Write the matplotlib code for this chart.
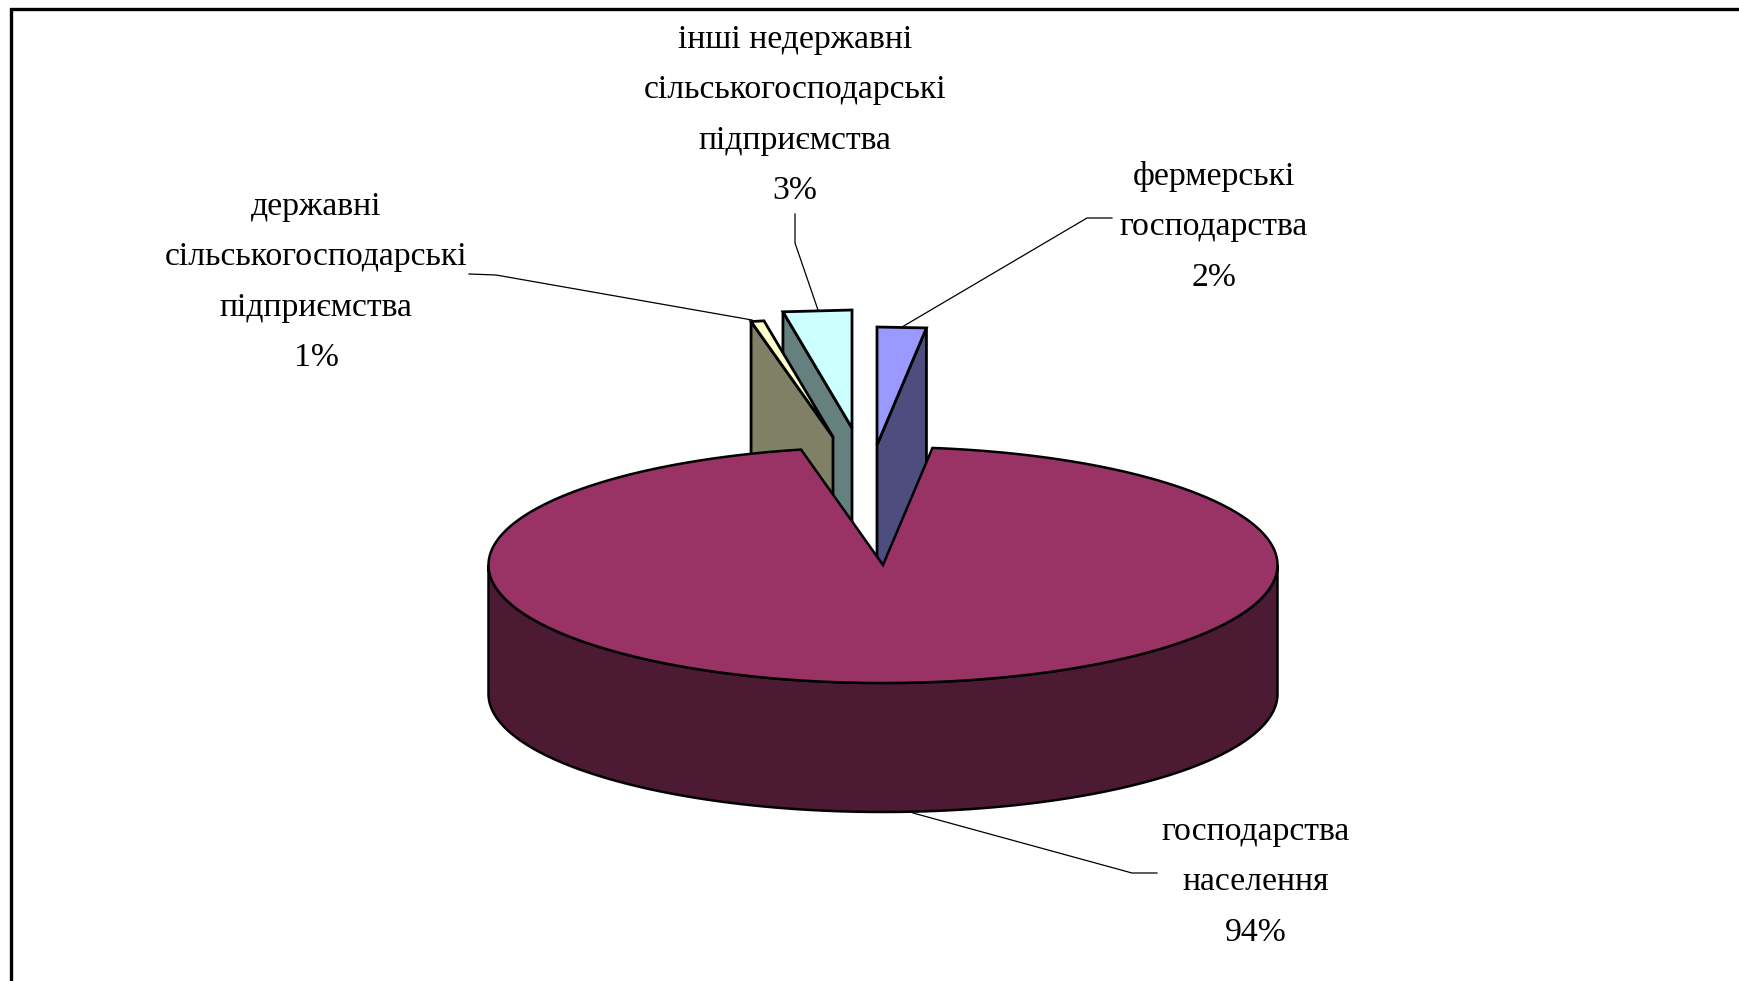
#!/usr/bin/env python3
import matplotlib

matplotlib.use("Agg")
import matplotlib.pyplot as plt
import numpy as np

# slice shares in percent, counter-clockwise from the right edge of the gap
categories = [
    "фермерські\nгосподарства",
    "інші недержавні\nсільськогосподарські\nпідприємства",
    "державні\nсільськогосподарські\nпідприємства",
    "господарства\nнаселення",
]
shares = [2.0, 2.8, 0.53, 94.67]
percent_labels = ["2%", "3%", "1%", "94%"]

top_colors = ["#9999FF", "#CCFFFF", "#FFFFCC", "#993366"]
wall_colors = ["#4D4D80", "#668080", "#808066", "#4D1A33"]

# pie geometry, in pixels of the output image
CX, CY = 883.0, 565.0
RX, RY = 394.5, 118.0
DEPTH = 129.0
WALL_EXTRA = 12.0  # walls run on behind the big slice, so no gap shows along its edge
START_ANGLE = 82.8
EXPLODE = [(-6, -120), (-31, -137), (-50, -128), (0, 0)]
DRAW_ORDER = [1, 2, 0]

LABEL_X = [1214, 795, 316, 1256]
LABEL_FIRST_BASELINE = [185, 48, 215, 840]
LINE_STEP = 50.3
LEADERS = [
    [(902, 327), (1087, 218), (1112, 218)],
    [(795, 214), (795, 243), (818, 310)],
    [(469, 274), (496, 275), (752, 320)],
    [(913, 813), (1132, 873), (1157, 873)],
]


def ellipse_xy(angles, cx, cy):
    rad = np.radians(angles)
    return cx + RX * np.cos(rad), cy - RY * np.sin(rad)


def draw_exploded_slice(ax, t0, t1, offset, top_color, wall_color):
    cx, cy = CX + offset[0], CY + offset[1]
    # only the wall on the outer side of the slice faces the viewer
    wall_angle = t0 if abs(np.cos(np.radians(t0))) > abs(np.cos(np.radians(t1))) else t1
    wx, wy = ellipse_xy(np.array([wall_angle]), cx, cy)
    depth = DEPTH + WALL_EXTRA
    ax.fill(
        [cx, wx[0], wx[0], cx],
        [cy, wy[0], wy[0] + depth, cy + depth],
        facecolor=wall_color, edgecolor="black", linewidth=2.0, joinstyle="miter",
    )
    # these arcs are so short that the reference draws them as a straight edge
    arc_x, arc_y = ellipse_xy(np.array([t0, t1]), cx, cy)
    ax.fill(
        np.r_[cx, arc_x], np.r_[cy, arc_y],
        facecolor=top_color, edgecolor="black", linewidth=2.0, joinstyle="miter",
    )


def draw_main_slice(ax, t0, t1, top_color, side_color):
    front = np.linspace(180, 360, 240)
    fx, fy = ellipse_xy(front, CX, CY)
    ax.fill(
        np.r_[fx, fx[::-1]], np.r_[fy, fy[::-1] + DEPTH],
        facecolor=side_color, edgecolor="black", linewidth=1.8,
    )
    tx, ty = ellipse_xy(np.linspace(t0, t1, 480), CX, CY)
    ax.fill(
        np.r_[CX, tx], np.r_[CY, ty],
        facecolor=top_color, edgecolor="black", linewidth=1.8, joinstyle="miter",
    )


def main() -> None:
    plt.rcParams["font.family"] = ["Liberation Serif", "DejaVu Serif"]
    fig = plt.figure(figsize=(17.39, 9.81), dpi=100)
    ax = fig.add_axes([0, 0, 1, 1])
    ax.set_xlim(0, 1739)
    ax.set_ylim(981, 0)
    ax.axis("off")

    # frame is only drawn on the left and the top, it runs off the image elsewhere
    ax.plot([10.5, 10.5, 1739], [981, 8.5, 8.5], color="black", linewidth=2.4, solid_joinstyle="miter")

    bounds = START_ANGLE + np.cumsum([0.0] + [s * 3.6 for s in shares])
    for i in DRAW_ORDER:
        draw_exploded_slice(ax, bounds[i], bounds[i + 1], EXPLODE[i], top_colors[i], wall_colors[i])
    draw_main_slice(ax, bounds[3], bounds[4], top_colors[3], wall_colors[3])

    for pts in LEADERS:
        xs, ys = zip(*pts)
        ax.plot(xs, ys, color="black", linewidth=0.9)

    for i, name in enumerate(categories):
        lines = name.split("\n") + [percent_labels[i]]
        for j, line in enumerate(lines):
            ax.text(
                LABEL_X[i], LABEL_FIRST_BASELINE[i] + j * LINE_STEP, line,
                ha="center", va="baseline", fontsize=24.3, color="black",
            )

    fig.savefig("out.png", dpi=100)
    plt.close(fig)


if __name__ == "__main__":
    main()
